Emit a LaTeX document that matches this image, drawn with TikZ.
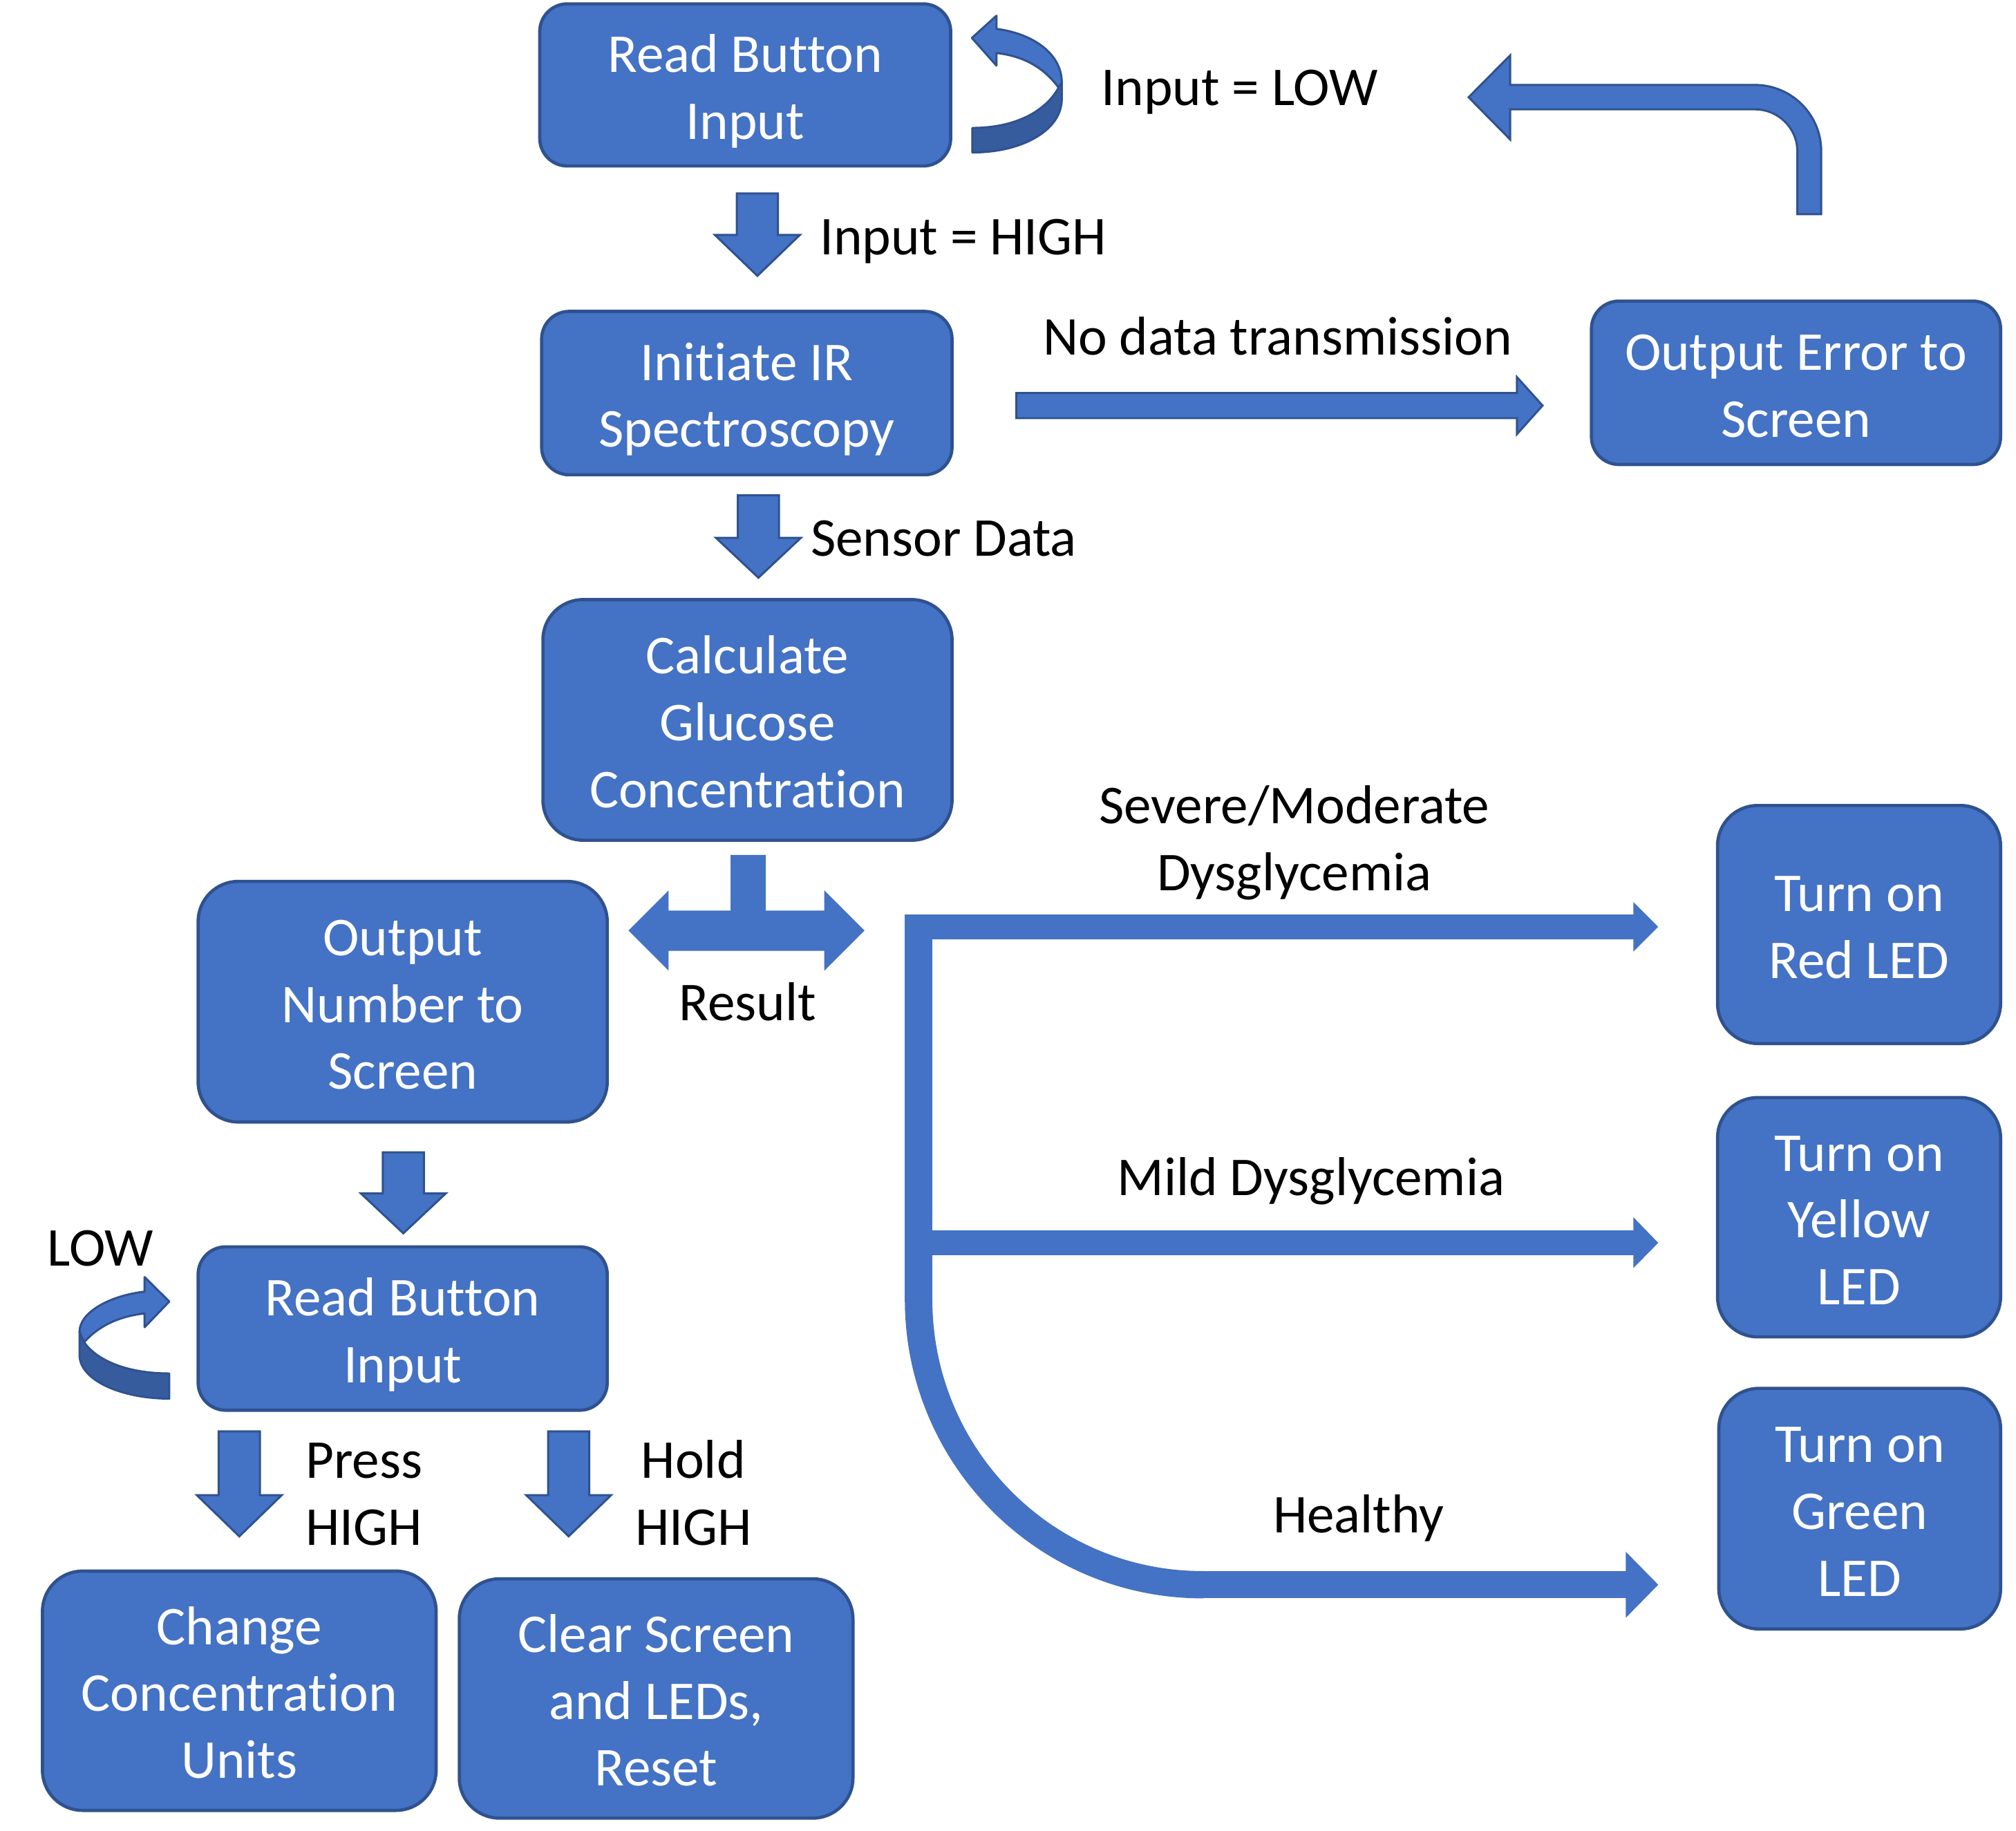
\documentclass[tikz,border=0pt]{standalone}
\usepackage{fontspec}
\setmainfont{Carlito}[Ligatures={NoCommon}]
\definecolor{blu}{HTML}{4472C4}
\definecolor{bdr}{HTML}{2F528F}
\definecolor{shade}{HTML}{375C9E}
\newcommand\lblfont{\fontsize{60.5}{74}\selectfont}
\newcommand\tl[1]{\raisebox{-0.055em}[0.894em][0.25em]{#1}}
\newcommand\DArr[4]{\draw[barrow] ({#1-16},#2) -- ({#1+16},#2) -- ({#1+16},#3) -- ({#1+33},#3) -- (#1,#4) -- ({#1-33},#3) -- ({#1-16},#3) -- cycle;}
\begin{document}
\begin{tikzpicture}[x=0.05cm,y=-0.05cm,
  box/.style={draw=bdr, fill=blu, line width=0.125cm, text=white, align=center, inner sep=0pt, font=\lblfont, rounded corners=1.07cm},
  tallbox/.style={box, rounded corners=1.56cm},
  lbl/.style={inner sep=0pt, align=center, font=\lblfont, text=black},
  barrow/.style={fill=blu, draw=bdr, line width=0.08cm, line join=miter},
  flat/.style={fill=blu, draw=none},
  shadearrow/.style={fill=shade, draw=bdr, line width=0.08cm, line join=round},
  lightarrow/.style={fill=blu, draw=bdr, line width=0.08cm, line join=round}]
\path[use as bounding box] (0,0) rectangle (1567,1423);

% ---------- boxes ----------
\node[box, minimum width=15.97cm, minimum height=6.3cm] (rb1) at (579.25,66) {\tl{Read Button}\\\tl{Input}};
\node[box, minimum width=15.95cm, minimum height=6.35cm] (ir) at (580.5,305.5) {\tl{Initiate IR}\\\tl{Spectroscopy}};
\node[box, minimum width=15.9cm, minimum height=6.35cm] (err) at (1396,297.5) {\tl{Output Error to}\\\tl{Screen}};
\node[tallbox, minimum width=15.9cm, minimum height=9.35cm] (calc) at (581,559.5) {\tl{Calculate}\\\tl{Glucose}\\\tl{Concentration}};
\node[tallbox, minimum width=15.9cm, minimum height=9.35cm] (outnum) at (313,778.5) {\tl{Output}\\\tl{Number to}\\\tl{Screen}};
\node[box, minimum width=15.9cm, minimum height=6.35cm] (rb2) at (313,1032.5) {\tl{Read Button}\\\tl{Input}};
\node[tallbox, minimum width=15.3cm, minimum height=9.3cm] (chg) at (186,1314) {\tl{Change}\\\tl{Concentration}\\\tl{Units}};
\node[tallbox, minimum width=15.3cm, minimum height=9.3cm] (clr) at (510,1320) {\tl{Clear Screen}\\\tl{and LEDs,}\\\tl{Reset}};
\node[tallbox, minimum width=11cm, minimum height=9.25cm] (red) at (1445,718.5) {\tl{Turn on}\\\tl{Red LED}};
\node[tallbox, minimum width=11cm, minimum height=9.3cm] (yel) at (1445,946) {\tl{Turn on}\\\tl{Yellow}\\\tl{LED}};
\node[tallbox, minimum width=10.95cm, minimum height=9.35cm] (grn) at (1445.5,1172.5) {\tl{Turn on}\\\tl{Green}\\\tl{LED}};

% ---------- labels ----------
\node[lbl, anchor=west] (lhigh) at (637,182) {\tl{Input = HIGH}};
\node[lbl, anchor=west] (llow) at (856,66) {\tl{Input = LOW}};
\node[lbl] (lnodata) at (993,260) {\tl{No data transmission}};
\node[lbl, anchor=west] (lsensor) at (630,416) {\tl{Sensor Data}};
\node[lbl] (lsevere) at (1006,650) {\tl{Severe/Moderate}\\\tl{Dysglycemia}};
\node[lbl] (lresult) at (581,777) {\tl{Result}};
\node[lbl] (lmild) at (1019,913) {\tl{Mild Dysglycemia}};
\node[lbl] (lhealthy) at (1056,1175) {\tl{Healthy}};
\node[lbl] (llow2) at (78,968) {\tl{LOW}};
\node[lbl] (lpress) at (283,1159) {\tl{Press}\\\tl{HIGH}};
\node[lbl] (lhold) at (539,1159) {\tl{Hold}\\\tl{HIGH}};

% ---------- straight down arrows ----------
\DArr{588.7}{150.4}{182.6}{214.4}
\DArr{589.5}{385}{418}{449}
\DArr{313.5}{895.5}{927.5}{958.5}
\DArr{186}{1112.5}{1162}{1194}
\DArr{442}{1112.5}{1162}{1194}

% ---------- no data transmission arrow ----------
\draw[barrow] (790,305.5) -- (1179,305.5) -- (1179,293) -- (1199,315.2) -- (1179,337.5) -- (1179,325) -- (790,325) -- cycle;

% ---------- bent arrow back to top ----------
\draw[barrow] (1415.6,166.5) -- (1415.6,117.5)
  .. controls (1415.6,89.1) and (1392.5,66) .. (1364.1,66)
  -- (1173.8,66) -- (1173.8,43) -- (1141.5,75.6) -- (1173.8,108.4) -- (1173.8,85)
  -- (1364.1,85) .. controls (1382.1,85) and (1397,99.5) .. (1397,117.5)
  -- (1397,166.5) -- cycle;

% ---------- top self loop ----------
\draw[shadearrow] (822.8,68.1) -- (825.3,62.8) -- (825.3,77.1)
  .. controls (825.3,101) and (795,118.5) .. (755.8,118.5) -- (755.8,99.4)
  .. controls (790,99.4) and (813,86) .. (822.8,68.1) -- cycle;
\draw[lightarrow] (774.5,22.4) .. controls (805,26.5) and (825.3,43) .. (825.3,64)
  -- (822.8,68.1) .. controls (811,52) and (795,43.5) .. (774.5,41.2)
  -- (774.5,51) -- (755.4,29.5) -- (774.5,12.2) -- cycle;

% ---------- bottom self loop ----------
\draw[shadearrow] (65.4,1043.2) -- (61.8,1035) -- (61.8,1053)
  .. controls (61.8,1073) and (95,1087) .. (131.6,1087) -- (131.6,1067.4)
  .. controls (100,1067.4) and (76,1058) .. (65.4,1043.2) -- cycle;
\draw[lightarrow] (112.4,1003.8) .. controls (85,1007) and (61.8,1020) .. (61.8,1035)
  -- (65.4,1043.2) .. controls (76,1031) and (92,1023) .. (112.4,1020.8)
  -- (112.4,1031.5) -- (131.6,1011.5) -- (112.4,992.5) -- cycle;

% ---------- result T arrow ----------
\fill[flat] (567.9,664.4) -- (595.2,664.4) -- (595.2,707.7) -- (640.7,707.7) -- (640.7,692)
  -- (671.9,723.2) -- (640.7,754.4) -- (640.7,739) -- (519.7,739) -- (519.7,754.4)
  -- (488.5,723.2) -- (519.7,692) -- (519.7,707.7) -- (567.9,707.7) -- cycle;

% ---------- branching bracket ----------
\fill[flat] (703.3,710.7) rectangle (1270,730);
\fill[flat] (1269.6,701) -- (1288.9,720.3) -- (1269.6,739.5) -- cycle;
\fill[flat] (703.3,710.7) rectangle (724.7,1011);
\fill[flat] (724,956.4) rectangle (1270,975.4);
\fill[flat] (1269.6,946) -- (1288.9,965.9) -- (1269.6,985.5) -- cycle;
\fill[flat] (703.3,1010) .. controls (703.3,1138.2) and (806.9,1242.2) .. (934.7,1242.2)
  -- (935.5,1242.2) -- (935.5,1221) -- (934.7,1221)
  .. controls (818.7,1221) and (724.7,1126.5) .. (724.7,1010) -- cycle;
\fill[flat] (934.7,1221) rectangle (1264.2,1242.2);
\fill[flat] (1263.7,1206) -- (1288.9,1231.6) -- (1263.7,1257.3) -- cycle;
\end{tikzpicture}
\end{document}
